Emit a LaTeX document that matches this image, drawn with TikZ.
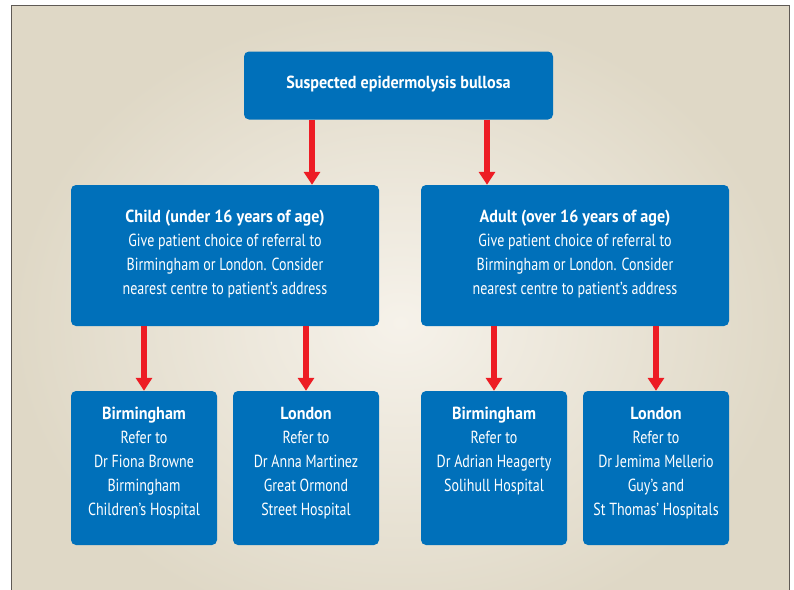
\documentclass[tikz,border=0pt]{standalone}
\usepackage{fontspec}
\setmainfont{PT Sans}[FakeStretch=0.80, BoldFeatures={FakeStretch=0.92}]
\usetikzlibrary{arrows.meta}
\definecolor{ebblue}{HTML}{0070BA}
\definecolor{ebred}{HTML}{ED1C24}
\definecolor{bgout}{HTML}{DFD8C6}
\definecolor{bgin}{HTML}{F6F2EA}
\definecolor{framec}{HTML}{5F5A55}
\begin{document}
\begin{tikzpicture}[x=1pt,y=-1pt,
  box/.style={fill=ebblue, rounded corners=5pt, inner sep=0pt},
  txt/.style={text=white, align=center, inner sep=0pt, font=\fontsize{17.5}{24}\selectfont},
  arr/.style={draw=ebred, line width=5.5pt, -{Triangle[width=16pt,length=13pt]}}]
\useasboundingbox (0,0) rectangle (794,589);
\fill[white] (0,0) rectangle (794,589);
\begin{scope}
  \clip (0,0) rectangle (794,589);
  \shade[inner color=bgin, outer color=bgout] (11.5,5.5) rectangle (789.5,640);
  \draw[framec, line width=1pt] (11.5,640) -- (11.5,5.5) -- (789.5,5.5) -- (789.5,640);
\end{scope}
% boxes
\node[box, minimum width=309pt, minimum height=68pt] (top) at (398.5,85.5) {};
\node[box, minimum width=308pt, minimum height=141pt] (child) at (225,255.5) {};
\node[box, minimum width=308pt, minimum height=141pt] (adult) at (575,255.5) {};
\node[box, minimum width=146pt, minimum height=154pt] (b1) at (144,468) {};
\node[box, minimum width=146pt, minimum height=154pt] (b2) at (306,468) {};
\node[box, minimum width=146pt, minimum height=154pt] (b3) at (494,468) {};
\node[box, minimum width=146pt, minimum height=154pt] (b4) at (656,468) {};
% texts
\node[txt] (toptxt) at ([yshift=1.5pt]top.center) {\textbf{Suspected epidermolysis bullosa}};
\node[txt] (childtxt) at ([yshift=1.5pt]child.center) {\textbf{Child (under 16 years of age)}\\Give patient choice of referral to\\Birmingham or London. Consider\\nearest centre to patient’s address};
\node[txt] (adulttxt) at ([yshift=1.5pt]adult.center) {\textbf{Adult (over 16 years of age)}\\Give patient choice of referral to\\Birmingham or London. Consider\\nearest centre to patient’s address};
\node[txt, anchor=north] (b1txt) at ([yshift=-16.5pt]b1.north) {\textbf{Birmingham}\\Refer to\\Dr Fiona Browne\\Birmingham\\Children’s Hospital};
\node[txt, anchor=north] (b2txt) at ([yshift=-16.5pt]b2.north) {\textbf{London}\\Refer to\\Dr Anna Martinez\\Great Ormond\\Street Hospital};
\node[txt, anchor=north] (b3txt) at ([yshift=-16.5pt]b3.north) {\textbf{Birmingham}\\Refer to\\Dr Adrian Heagerty\\Solihull Hospital};
\node[txt, anchor=north] (b4txt) at ([yshift=-16.5pt]b4.north) {\textbf{London}\\Refer to\\Dr Jemima Mellerio\\Guy’s and\\St Thomas’ Hospitals};
% arrow columns
\coordinate (ca) at (312,0);
\coordinate (cb) at (487,0);
\draw[arr] (ca |- top.south) -- (ca |- child.north);
\draw[arr] (cb |- top.south) -- (cb |- adult.north);
\draw[arr] (b1.north |- child.south) -- (b1.north);
\draw[arr] (b2.north |- child.south) -- (b2.north);
\draw[arr] (b3.north |- adult.south) -- (b3.north);
\draw[arr] (b4.north |- adult.south) -- (b4.north);
\end{tikzpicture}
\end{document}
